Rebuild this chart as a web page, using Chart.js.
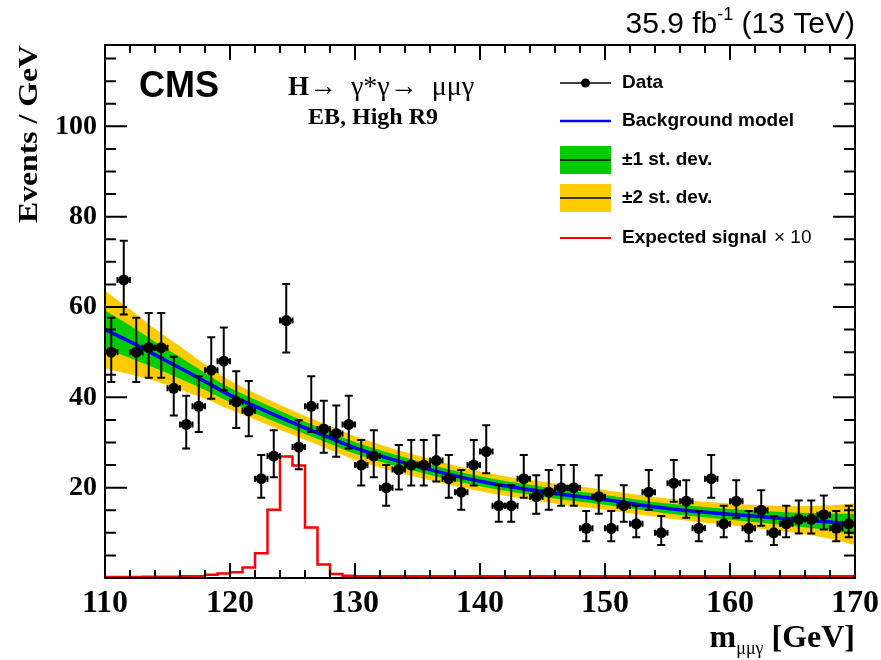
<!DOCTYPE html>
<html>
<head>
<meta charset="utf-8">
<script src="https://cdn.jsdelivr.net/npm/chart.js@4.4.1/dist/chart.umd.min.js"></script>
<style>body{margin:0;background:#fff}</style>
</head>
<body>
<canvas id="massChart" width="881" height="660"></canvas>
<script>
// data: events per 1 GeV bin (bin centres)
const massBins = [110.5, 111.5, 112.5, 113.5, 114.5, 115.5, 116.5, 117.5, 118.5, 119.5,
                  120.5, 121.5, 122.5, 123.5, 124.5, 125.5, 126.5, 127.5, 128.5, 129.5,
                  130.5, 131.5, 132.5, 133.5, 134.5, 135.5, 136.5, 137.5, 138.5, 139.5,
                  140.5, 141.5, 142.5, 143.5, 144.5, 145.5, 146.5, 147.5, 148.5, 149.5,
                  150.5, 151.5, 152.5, 153.5, 154.5, 155.5, 156.5, 157.5, 158.5, 159.5,
                  160.5, 161.5, 162.5, 163.5, 164.5, 165.5, 166.5, 167.5, 168.5, 169.5];
const eventCounts = [50, 66, 50, 51, 51, 42, 34, 38, 46, 48,
                     39, 37, 22, 27, 57, 29, 38, 33, 32, 34,
                     25, 27, 20, 24, 25, 25, 26, 22, 19, 25,
                     28, 16, 16, 22, 18, 19, 20, 20, 11, 18,
                     11, 16, 12, 19, 10, 21, 17, 11, 22, 12,
                     17, 11, 15, 10, 12, 13, 13, 14, 11, 12];

// background model and its uncertainty (half widths)
const bkgMass = [110, 112, 114, 116, 118, 120, 122, 125, 128, 130, 135, 140, 145, 150, 155, 160, 165, 168, 170];
const bkgFit  = [55.0, 52.3, 49.4, 46.5, 43.5, 40.5, 38.0, 34.4, 31.0, 28.8, 24.7, 21.4, 19.1, 17.3, 15.4, 14.1, 13.0, 12.4, 11.9];
const bkgErr1 = [4.2, 3.6, 2.9, 2.4, 1.9, 1.6, 1.5, 1.4, 1.3, 1.3, 1.2, 1.1, 1.1, 1.1, 1.1, 1.2, 1.5, 1.9, 2.3];
const bkgErr2 = [8.6, 7.2, 5.8, 4.8, 3.8, 3.2, 2.9, 2.7, 2.6, 2.6, 2.4, 2.2, 2.2, 2.2, 2.2, 2.4, 2.9, 3.7, 4.6];

// expected signal x10, histogram with 1 GeV bins (left edges + last edge)
const signalEdges = [110, 111, 112, 113, 114, 115, 116, 117, 118, 119,
                     120, 121, 122, 123, 124, 125, 126, 127, 128, 129,
                     130, 131, 132, 133, 134, 135, 136, 137, 138, 139,
                     140, 141, 142, 143, 144, 145, 146, 147, 148, 149,
                     150, 151, 152, 153, 154, 155, 156, 157, 158, 159,
                     160, 161, 162, 163, 164, 165, 166, 167, 168, 169, 170];
const signalX10 = [0.2, 0.2, 0.2, 0.3, 0.3, 0.3, 0.4, 0.4, 0.7, 1.0,
                   1.3, 2.3, 5.5, 15.1, 26.9, 24.9, 11.2, 3.0, 0.9, 0.5,
                   0.4, 0.4, 0.4, 0.4, 0.4, 0.4, 0.4, 0.4, 0.4, 0.4,
                   0.4, 0.4, 0.4, 0.4, 0.4, 0.4, 0.4, 0.4, 0.4, 0.4,
                   0.4, 0.4, 0.4, 0.4, 0.4, 0.4, 0.4, 0.4, 0.4, 0.4,
                   0.4, 0.4, 0.4, 0.4, 0.4, 0.4, 0.4, 0.4, 0.4, 0.4];

const xTickLabels = [110, 120, 130, 140, 150, 160, 170];
const yTickLabels = [20, 40, 60, 80, 100];

const serif = '"Liberation Serif", "DejaVu Serif", serif';
const sans = '"Liberation Sans", Arial, sans-serif';

const YELLOW = "#ffcc00";
const GREEN = "#00cc00";
const BLUE = "#0000ff";
const RED = "#ff0000";

function band(sign, err) {
    return bkgMass.map((m, i) => ({ x: m, y: bkgFit[i] + sign * err[i] }));
}

const dataPoints = massBins.map((m, i) => ({ x: m, y: eventCounts[i] }));
const signalPoints = signalEdges.map((e, i) => ({ x: e, y: signalX10[Math.min(i, signalX10.length - 1)] }));

// Poisson (Garwood-like) error bars drawn under the markers
const errorBars = {
    id: "errorBars",
    beforeDatasetDraw(chart, args) {
        if (args.index !== 6) return;
        const xs = chart.scales.x, ys = chart.scales.y, c = chart.ctx;
        c.save();
        c.strokeStyle = "#000";
        c.lineWidth = 2;
        massBins.forEach((m, i) => {
            const n = eventCounts[i];
            const s = Math.sqrt(n + 0.25);
            const px = xs.getPixelForValue(m);
            const py = ys.getPixelForValue(n);
            const top = ys.getPixelForValue(n + s + 0.5);
            const bot = ys.getPixelForValue(n - s + 0.5);
            const l = xs.getPixelForValue(m - 0.5), r = xs.getPixelForValue(m + 0.5);
            c.beginPath();
            c.moveTo(px, top); c.lineTo(px, bot);
            c.moveTo(px - 4, top); c.lineTo(px + 4, top);
            c.moveTo(px - 4, bot); c.lineTo(px + 4, bot);
            c.moveTo(l, py); c.lineTo(r, py);
            c.moveTo(l, py - 3); c.lineTo(l, py + 3);
            c.moveTo(r, py - 3); c.lineTo(r, py + 3);
            c.stroke();
        });
        c.restore();
    }
};

// frame, inward ticks, texts and legend
const decorations = {
    id: "decorations",
    afterDraw(chart) {
        const xs = chart.scales.x, ys = chart.scales.y, c = chart.ctx;
        const a = chart.chartArea;
        c.save();
        c.strokeStyle = "#000";
        c.lineWidth = 2;
        c.strokeRect(a.left, a.top, a.right - a.left, a.bottom - a.top);
        c.beginPath();
        for (let v = 110; v <= 170; v += 2) {
            const px = xs.getPixelForValue(v);
            const len = v % 10 === 0 ? 15 : 8;
            c.moveTo(px, a.bottom); c.lineTo(px, a.bottom - len);
            c.moveTo(px, a.top); c.lineTo(px, a.top + len);
        }
        for (let v = 0; v <= ys.max; v += 5) {
            const py = ys.getPixelForValue(v);
            const len = v % 20 === 0 ? 22 : 11;
            c.moveTo(a.left, py); c.lineTo(a.left + len, py);
            c.moveTo(a.right, py); c.lineTo(a.right - len, py);
        }
        c.stroke();

        c.fillStyle = "#000";
        c.textBaseline = "alphabetic";
        c.textAlign = "left";

        // luminosity label
        const t1 = "35.9 fb", t3 = " (13 TeV)";
        c.font = "18px " + sans;
        const wSup = c.measureText("-1").width;
        c.font = "30px " + sans;
        const w1 = c.measureText(t1).width, w3 = c.measureText(t3).width;
        let x0 = a.right - w1 - wSup - w3;
        c.fillText(t1, x0, 33);
        c.fillText(t3, x0 + w1 + wSup, 33);
        c.font = "18px " + sans;
        c.fillText("-1", x0 + w1, 20);

        // CMS
        c.font = "bold 36px " + sans;
        c.fillText("CMS", 139, 97);

        // process label
        c.font = "bold 27px " + serif;
        c.fillText("H", 288, 95);
        const wH = c.measureText("H").width;
        c.font = "28px " + serif;
        c.fillText("\u2192  \u03b3*\u03b3\u2192  \u03bc\u03bc\u03b3", 288 + wH, 95);
        c.font = "bold 24px " + serif;
        c.fillText("EB, High R9", 308, 124);

        // axis titles
        c.save();
        c.translate(37, 45);
        c.rotate(-Math.PI / 2);
        c.font = "bold 27px " + serif;
        c.textAlign = "right";
        const wy = c.measureText("Events / GeV").width;
        c.scale(178 / wy, 1);
        c.fillText("Events / GeV", 0, 0);
        c.restore();

        c.font = "bold 32px " + serif;
        const wG = c.measureText(" [GeV]").width;
        const wm = c.measureText("m").width;
        c.font = "18px " + serif;
        const wSub = c.measureText("\u03bc\u03bc\u03b3").width;
        let xt = a.right - wG - wSub - wm;
        c.font = "bold 32px " + serif;
        c.fillText("m", xt, 647);
        c.fillText(" [GeV]", xt + wm + wSub, 647);
        c.font = "18px " + serif;
        c.fillText("\u03bc\u03bc\u03b3", xt + wm, 654);

        // legend
        const lx0 = 560, lx1 = 611, tx = 622;
        const rows = [83, 121, 160, 198, 238];
        c.lineWidth = 1.5;
        c.strokeStyle = "#000";
        c.beginPath(); c.moveTo(lx0, rows[0]); c.lineTo(lx1, rows[0]); c.stroke();
        c.beginPath(); c.arc((lx0 + lx1) / 2, rows[0], 4.5, 0, 2 * Math.PI); c.fill();
        c.strokeStyle = BLUE; c.lineWidth = 2.5;
        c.beginPath(); c.moveTo(lx0, rows[1]); c.lineTo(lx1, rows[1]); c.stroke();
        c.fillStyle = GREEN; c.fillRect(lx0, rows[2] - 14, lx1 - lx0, 28);
        c.fillStyle = YELLOW; c.fillRect(lx0, rows[3] - 14, lx1 - lx0, 28);
        c.strokeStyle = "#000"; c.lineWidth = 1.5;
        c.beginPath();
        c.moveTo(lx0, rows[2]); c.lineTo(lx1, rows[2]);
        c.moveTo(lx0, rows[3]); c.lineTo(lx1, rows[3]);
        c.stroke();
        c.strokeStyle = RED; c.lineWidth = 2;
        c.beginPath(); c.moveTo(lx0, rows[4]); c.lineTo(lx1, rows[4]); c.stroke();

        c.fillStyle = "#000";
        c.textBaseline = "middle";
        c.font = "bold 19px " + sans;
        c.fillText("Data", tx, rows[0]);
        c.fillText("Background model", tx, rows[1]);
        c.fillText("\u00b11 st. dev.", tx, rows[2]);
        c.fillText("\u00b12 st. dev.", tx, rows[3]);
        const ts = "Expected signal ";
        c.fillText(ts, tx, rows[4]);
        const wts = c.measureText(ts).width;
        c.font = "19px " + sans;
        c.fillText("\u00d7 10", tx + wts + 2, rows[4]);
        c.restore();
    }
};

const chart = new Chart(document.getElementById("massChart").getContext("2d"), {
    type: "line",
    data: {
        datasets: [
            { data: band(1, bkgErr2), fill: "+1", backgroundColor: YELLOW, borderWidth: 0, pointRadius: 0, cubicInterpolationMode: "monotone", order: 5 },
            { data: band(-1, bkgErr2), fill: false, borderWidth: 0, pointRadius: 0, cubicInterpolationMode: "monotone", order: 5 },
            { data: band(1, bkgErr1), fill: "+1", backgroundColor: GREEN, borderWidth: 0, pointRadius: 0, cubicInterpolationMode: "monotone", order: 4 },
            { data: band(-1, bkgErr1), fill: false, borderWidth: 0, pointRadius: 0, cubicInterpolationMode: "monotone", order: 4 },
            { data: bkgMass.map((m, i) => ({ x: m, y: bkgFit[i] })), borderColor: BLUE, borderWidth: 3.5, pointRadius: 0, fill: false, cubicInterpolationMode: "monotone", order: 3 },
            { data: signalPoints, borderColor: RED, borderWidth: 2.5, pointRadius: 0, fill: false, stepped: "before", order: 2 },
            { data: dataPoints, showLine: false, pointRadius: 5.5, pointBackgroundColor: "#000", pointBorderWidth: 0, order: 1 }
        ]
    },
    options: {
        responsive: false,
        animation: false,
        layout: { padding: { left: 0, right: 26, top: 45, bottom: 0 } },
        plugins: { legend: { display: false }, tooltip: { enabled: false } },
        scales: {
            x: {
                type: "linear",
                min: 110,
                max: 170,
                grid: { display: false, drawTicks: false },
                border: { display: false },
                afterFit: s => { s.height = 82; s.paddingLeft = 0; s.paddingRight = 0; },
                ticks: {
                    stepSize: 10,
                    padding: 7,
                    color: "#000",
                    font: { family: serif, size: 32, weight: "bold" },
                    callback: v => xTickLabels.includes(v) ? String(v) : ""
                }
            },
            y: {
                min: 0,
                max: 118,
                grid: { display: false, drawTicks: false },
                border: { display: false },
                afterFit: s => { s.width = 105; s.paddingTop = 0; s.paddingBottom = 0; },
                ticks: {
                    stepSize: 20,
                    padding: 8,
                    color: "#000",
                    font: { family: serif, size: 28, weight: "bold" },
                    callback: v => yTickLabels.includes(v) ? String(v) : ""
                }
            }
        }
    },
    plugins: [errorBars, decorations]
});
</script>
</body>
</html>
